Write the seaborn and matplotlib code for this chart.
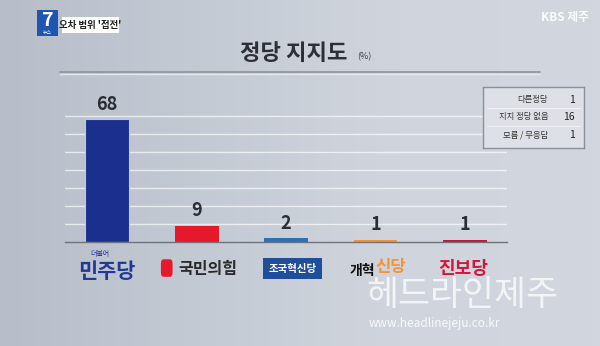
import numpy as np
import pandas as pd
import matplotlib
matplotlib.use("Agg")
import matplotlib.pyplot as plt
import seaborn as sns
from matplotlib.patches import FancyBboxPatch, Rectangle
from matplotlib.colors import LinearSegmentedColormap

# ---- data ----
parties = ["더불어민주당", "국민의힘", "조국혁신당", "개혁신당", "진보당"]
support = [68, 9, 2, 1, 1]
bar_colors = ["#1b2f8e", "#e5192b", "#2b6fb6", "#f0953d", "#b51d3a"]
other_labels = ["다른정당", "지지 정당 없음", "모름 / 무응답"]
other_values = [1, 16, 1]
title = "정당 지지도"
unit = "(%)"
headline = "오차 범위 '접전'"

sns.set_theme(style="white")
plt.rcParams["font.family"] = ["Noto Sans CJK KR", "DejaVu Sans"]

W, H = 600, 346
fig = plt.figure(figsize=(W / 100, H / 100), dpi=100)

# background gradient
bg = fig.add_axes([0, 0, 1, 1], zorder=-10)
grad = np.linspace(0, 1, 256)[None, :]
cmap = LinearSegmentedColormap.from_list("bg", ["#b7bec9", "#c4cad4", "#d0d5dd", "#d2d7df"])
bg.imshow(grad, aspect="auto", cmap=cmap, extent=[0, 1, 0, 1])
bg.set_axis_off()
bg.set_xlim(0, 1); bg.set_ylim(0, 1)

# main axes
ax = fig.add_axes([0.108, 0.3014, 0.737, 0.3902])
ax.set_facecolor("none")
df = pd.DataFrame({"party": parties, "support": support})
sns.barplot(data=df, x="party", y="support", hue="party", palette=bar_colors,
            width=0.49, legend=False, ax=ax, saturation=1, linewidth=0)
for c in ax.containers:
    ax.bar_label(c, padding=4, fontsize=13, fontweight="bold", color="#2a2d33")
# light outline on the tall bar only
ax.patches[0].set_edgecolor("#b9c6e6")
ax.patches[0].set_linewidth(0.8)
ax.set_xlim(-0.475, 4.47)
ax.set_ylim(0, 75)
ax.set_yticks([10, 20, 30, 40, 50, 60, 70])
ax.yaxis.grid(True, color="white", alpha=0.65, lw=1)
ax.set_axisbelow(True)
ax.tick_params(left=False, bottom=False, labelleft=False, labelbottom=False)
ax.set_xlabel("")
ax.set_ylabel("")
for s in ["top", "left", "right"]:
    ax.spines[s].set_visible(False)
ax.spines["bottom"].set_color("#6e727a")
ax.spines["bottom"].set_linewidth(1)

# party labels (logo-like)
tr = ax.get_xaxis_transform()
ly = -0.2
ax.text(0, ly - 0.02, "민주당", transform=tr, ha="center", va="center",
        fontsize=15, fontweight="bold", color="#22399a")
ax.text(-0.08, ly + 0.11, "더불어", transform=tr, ha="center", va="center",
        fontsize=5, color="#22399a")
ax.text(1.12, ly, "국민의힘", transform=tr, ha="center", va="center",
        fontsize=11.5, fontweight="bold", color="#2b2b2b")
ax.add_patch(FancyBboxPatch((0.6, ly - 0.06), 0.13, 0.13, transform=tr,
                            boxstyle="round,pad=0,rounding_size=0.03",
                            fc="#e5192b", ec="none", clip_on=False))
ax.text(2.07, ly, "조국혁신당", transform=tr, ha="center", va="center",
        fontsize=7.5, fontweight="bold", color="white",
        bbox=dict(boxstyle="square,pad=0.55", fc="#1f4f9c", ec="none"))
ax.text(2.99, ly - 0.02, "개혁", transform=tr, ha="right", va="center",
        fontsize=10, fontweight="bold", color="#111111")
ax.text(3.0, ly + 0.01, "신당", transform=tr, ha="left", va="center",
        fontsize=12, fontweight="bold", color="#f0953d")
ax.text(3.98, ly, "진보당", transform=tr, ha="center", va="center",
        fontsize=13, fontweight="bold", color="#d4143a")

# title
fig.text(0.489, 0.846, title, ha="center", va="center", fontsize=16,
         fontweight="bold", color="#2c2f35")
fig.text(0.607, 0.835, unit, ha="center", va="center", fontsize=6.5, color="#3a3d44")
bg.plot([0.1, 0.9], [1 - 72 / H, 1 - 72 / H], color="#8d929b", lw=1.2)
bg.plot([0.1, 0.9], [1 - 74 / H, 1 - 74 / H], color="#e4e7ec", lw=1.0)

# top-left badge
bg.add_patch(Rectangle((37 / W, 1 - 36 / H), 21 / W, 26 / H, fc="#1d55b0", ec="none"))
fig.text(47.5 / W, 1 - 20 / H, "7", ha="center", va="center", fontsize=14,
         fontweight="bold", fontstyle="italic", color="white")
fig.text(47.5 / W, 1 - 32.5 / H, "뉴스", ha="center", va="center", fontsize=3.5, color="white")
bg.add_patch(Rectangle((62 / W, 1 - 33 / H), 57 / W, 16 / H, fc="white", ec="none"))
fig.text(90.5 / W, 1 - 25 / H, headline, ha="center", va="center", fontsize=6.8,
         fontweight="bold", color="#222222")

# KBS logo text
fig.text(565 / W, 1 - 18 / H, "KBS 제주", ha="center", va="center", fontsize=8.5,
         fontweight="bold", color="white", alpha=0.9)

# side table
tb = fig.add_axes([483 / W, 1 - 148 / H, 101 / W, 61 / H])
tb.set_facecolor("#dde1e7")
for s in tb.spines.values():
    s.set_color("#8a8f98")
    s.set_linewidth(1)
tb.set_xticks([]); tb.set_yticks([])
tb.set_xlim(0, 1); tb.set_ylim(0, 1)
rows_y = [0.79, 0.51, 0.215]
for yy, lab, val in zip(rows_y, other_labels, other_values):
    tb.text(0.645, yy, lab, ha="right", va="center", fontsize=6, color="#333333")
    tb.text(0.91, yy, str(val), ha="right", va="center", fontsize=7.5, color="#222222")
for yy in [0.65, 0.36]:
    tb.axhline(yy, xmin=0.04, xmax=0.96, color="#eef0f3", lw=0.8)

# watermark
fig.text(462 / W, 1 - 295 / H, "헤드라인제주", ha="center", va="center", fontsize=25,
         color="white", alpha=0.75)
fig.text(434 / W, 1 - 323 / H, "www.headlinejeju.co.kr", ha="center", va="center",
         fontsize=8.5, color="white", alpha=0.85)

fig.savefig("out.png", dpi=100)
